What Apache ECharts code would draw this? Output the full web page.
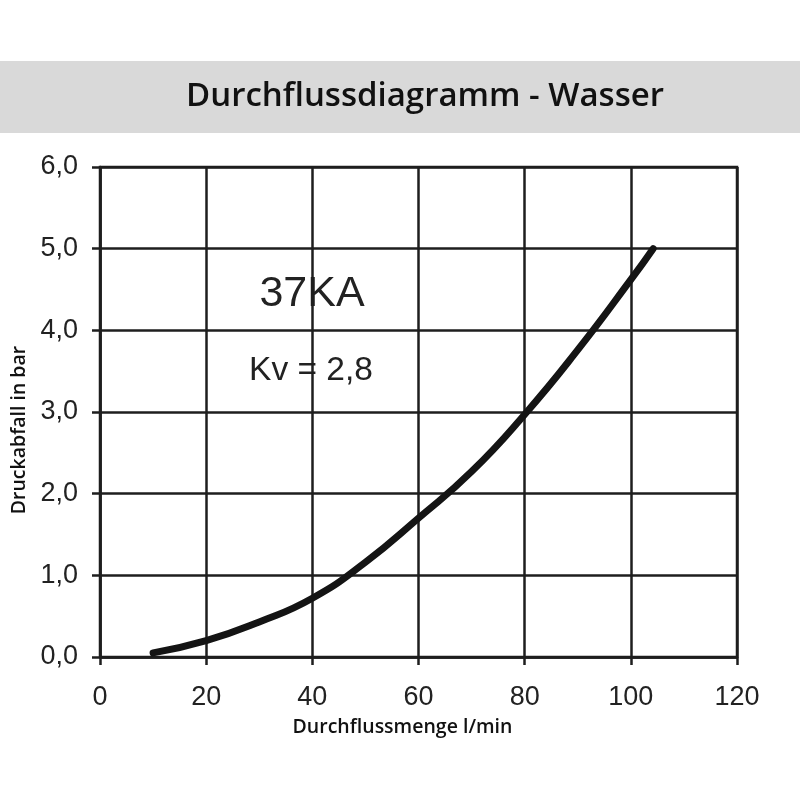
<!DOCTYPE html>
<html>
<head>
<meta charset="utf-8">
<script src="https://cdn.jsdelivr.net/npm/echarts@6/dist/echarts.min.js"></script>
<style>
html,body{margin:0;padding:0;background:#fff;}
#chart{width:800px;height:800px;}
</style>
</head>
<body>
<div id="chart"></div>
<script>
// Data
var flowLpm = [10, 20, 30, 40, 50, 60, 70, 80, 90, 100, 104.2];
var pressureBar = [0.05, 0.2, 0.43, 0.72, 1.16, 1.7, 2.27, 2.97, 3.76, 4.62, 5.0];
var xTicks = [0, 20, 40, 60, 80, 100, 120];
var yTicks = ['0,0', '1,0', '2,0', '3,0', '4,0', '5,0', '6,0'];
var titleText = 'Durchflussdiagramm - Wasser';
var modelText = '37KA';
var kvText = 'Kv = 2,8';
var xName = 'Durchflussmenge l/min';
var yName = 'Druckabfall in bar';

var points = flowLpm.map(function (x, i) { return [x, pressureBar[i]]; });
var chart = echarts.init(document.getElementById('chart'));
var ink = '#1e1e1e';
chart.setOption({
  animation: false,
  backgroundColor: '#ffffff',
  grid: { left: 100, right: 63, top: 167, bottom: 143, show: true, borderColor: ink, borderWidth: 2.5, backgroundColor: 'transparent' },
  xAxis: {
    type: 'value', min: xTicks[0], max: xTicks[xTicks.length - 1], interval: 20,
    axisLine: { show: true, lineStyle: { color: ink, width: 2.5 } },
    axisTick: { show: true, length: 8, lineStyle: { color: ink, width: 2.5 } },
    splitLine: { show: true, lineStyle: { color: ink, width: 2.5 } },
    axisLabel: { margin: 27, color: '#222', fontFamily: 'Liberation Sans', fontSize: 27 },
    name: xName, nameLocation: 'middle', nameGap: 60,
    nameTextStyle: { color: '#111', fontFamily: 'Open Sans', fontWeight: 600, fontSize: 19.5, padding: [0, 32, 0, 0] }
  },
  yAxis: {
    type: 'value', min: 0, max: 6, interval: 1,
    axisLine: { show: true, lineStyle: { color: ink, width: 2.5 } },
    axisTick: { show: true, length: 8, lineStyle: { color: ink, width: 2.5 } },
    splitLine: { show: true, lineStyle: { color: ink, width: 2.5 } },
    axisLabel: { margin: 22, color: '#222', fontFamily: 'Liberation Sans', fontSize: 27,
      formatter: function (v) { return yTicks[Math.round(v)]; } },
    name: yName, nameLocation: 'middle', nameGap: 67, nameRotate: 90,
    nameTextStyle: { color: '#111', fontFamily: 'Open Sans', fontWeight: 600, fontSize: 19.5, padding: [0, 36, 0, 0] }
  },
  series: [{
    type: 'line', data: points, smooth: 0.5, showSymbol: false,
    lineStyle: { color: '#141414', width: 7, cap: 'round', join: 'round' }
  }],
  graphic: [
    { type: 'rect', left: 0, top: 61, z: -1, shape: { width: 800, height: 72 }, style: { fill: '#d9d9d9' } },
    { type: 'text', x: 425, y: 97, style: { text: titleText, fill: '#111', font: '600 33px "Open Sans"', textAlign: 'center', textVerticalAlign: 'middle' } },
    { type: 'text', x: 312, y: 294, style: { text: modelText, fill: '#222', font: '43px "Liberation Sans"', textAlign: 'center', textVerticalAlign: 'middle' } },
    { type: 'text', x: 311, y: 371, style: { text: kvText, fill: '#222', font: '33.5px "Liberation Sans"', textAlign: 'center', textVerticalAlign: 'middle' } }
  ]
});
</script>
</body>
</html>
